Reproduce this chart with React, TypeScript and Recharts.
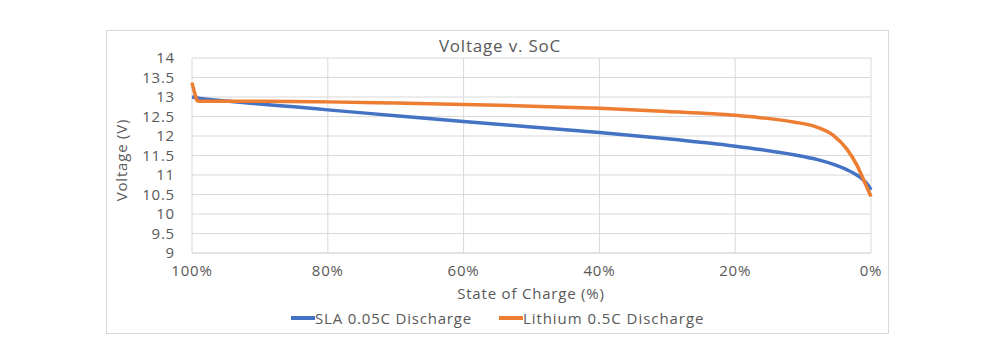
import React from 'react'
import { LineChart, Line, XAxis, YAxis, CartesianGrid } from 'recharts'

// state of charge (%) and voltage readings
const slaSoc = [100, 99, 95, 90, 85, 80, 70, 60, 50, 40, 30, 20, 16.3, 11.4, 8, 5.5, 3.5, 2.1, 1.1, 0.4, 0]
const slaVolts = [13.0, 12.97, 12.9, 12.82, 12.75, 12.67, 12.52, 12.37, 12.23, 12.09, 11.93, 11.74, 11.655, 11.52, 11.4, 11.27, 11.13, 11.0, 10.87, 10.73, 10.62]

const liSoc = [100, 99.6, 99.2, 98, 95, 90, 80, 70, 60, 50, 40, 30, 20, 16.3, 11.4, 8, 5.5, 3.5, 2.1, 1.1, 0]
const liVolts = [13.37, 13.1, 12.9, 12.89, 12.89, 12.89, 12.875, 12.845, 12.81, 12.765, 12.71, 12.63, 12.53, 12.47, 12.36, 12.23, 12.01, 11.65, 11.26, 10.88, 10.45]

const socTicks = [100, 80, 60, 40, 20, 0]
const voltTicks = [9, 9.5, 10, 10.5, 11, 11.5, 12, 12.5, 13, 13.5, 14]

const slaData = slaSoc.map((soc, i) => ({ soc, v: slaVolts[i] }))
const liData = liSoc.map((soc, i) => ({ soc, v: liVolts[i] }))

const BLUE = '#4472C4'
const ORANGE = '#ED7D31'
const GRID = '#d9d9d9'
const TEXT = '#595959'
const FONT = '"Open Sans", sans-serif'

export default function App() {
  const tick = { fontSize: 15, fill: TEXT, fontFamily: FONT, letterSpacing: 0.8 }

  return (
    <div style={{ position: 'absolute', left: 0, top: 0, width: 1000, height: 361, background: 'white', fontFamily: FONT, color: TEXT, letterSpacing: 0.8 }}>
      <div style={{ position: 'absolute', left: 106, top: 30, width: 781, height: 302, border: `1px solid ${GRID}` }} />

      <div style={{ position: 'absolute', left: 0, width: 1000, top: 34, textAlign: 'center', fontSize: 17 }}>
        Voltage v. SoC
      </div>

      <LineChart
        width={1000}
        height={361}
        margin={{ top: 58, right: 129, left: 107, bottom: 78 }}
        style={{ position: 'absolute', left: 0, top: 0 }}
      >
        <CartesianGrid stroke={GRID} strokeWidth={1} />
        <XAxis
          dataKey="soc"
          type="number"
          domain={[0, 100]}
          reversed
          ticks={socTicks}
          interval={0}
          tickFormatter={(v) => `${v}%`}
          tick={tick}
          tickLine={false}
          axisLine={{ stroke: GRID }}
          tickMargin={6}
          height={30}
          allowDuplicatedCategory={false}
        />
        <YAxis
          type="number"
          domain={[9, 14]}
          ticks={voltTicks}
          interval={0}
          tick={tick}
          tickLine={false}
          axisLine={false}
          tickMargin={11}
          width={85}
        />
        <Line data={slaData} dataKey="v" type="monotone" stroke={BLUE} strokeWidth={3.5} dot={false} isAnimationActive={false} />
        <Line data={liData} dataKey="v" type="monotone" stroke={ORANGE} strokeWidth={3.5} dot={false} isAnimationActive={false} />
      </LineChart>

      <div style={{ position: 'absolute', left: 0, width: 1062, top: 283, textAlign: 'center', fontSize: 15 }}>
        State of Charge (%)
      </div>
      <div
        style={{
          position: 'absolute',
          left: 121,
          top: 160,
          transform: 'translate(-50%, -50%) rotate(-90deg)',
          whiteSpace: 'nowrap',
          fontSize: 15,
        }}
      >
        Voltage (V)
      </div>

      <div style={{ position: 'absolute', left: 291, top: 308, display: 'flex', alignItems: 'center', fontSize: 15, whiteSpace: 'nowrap' }}>
        <span style={{ display: 'inline-block', width: 24, height: 4, background: BLUE }} />
        <span style={{ marginRight: 27 }}>SLA 0.05C Discharge</span>
        <span style={{ display: 'inline-block', width: 24, height: 4, background: ORANGE }} />
        <span style={{ letterSpacing: 0.95 }}>Lithium 0.5C Discharge</span>
      </div>
    </div>
  )
}
